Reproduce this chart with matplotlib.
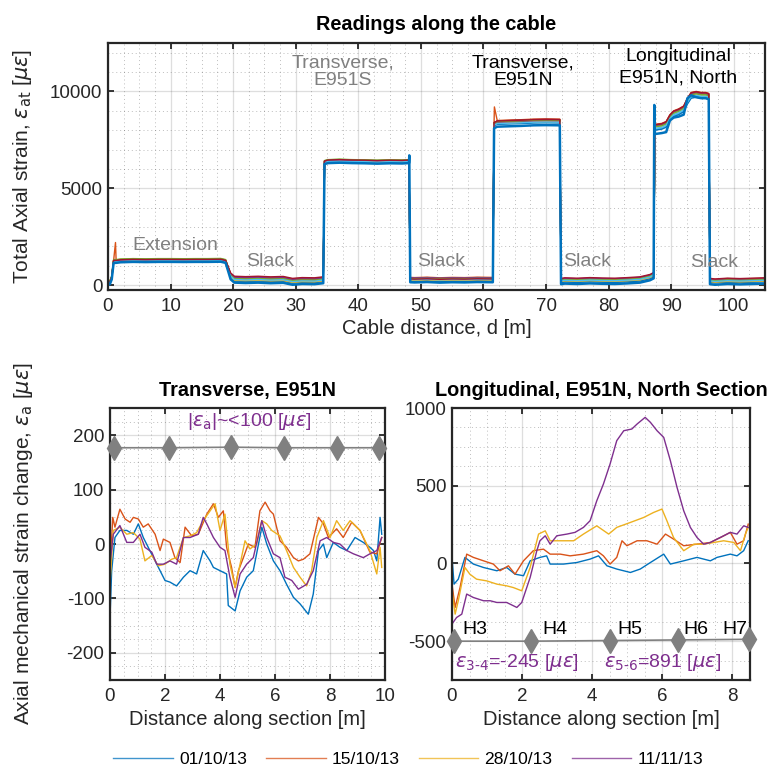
import numpy as np
import matplotlib
matplotlib.use('Agg')
import matplotlib.pyplot as plt
from matplotlib.ticker import MultipleLocator

plt.rcParams['font.family'] = ['Liberation Sans', 'DejaVu Sans']
plt.rcParams['mathtext.fontset'] = 'dejavusans'
plt.rcParams['font.size'] = 14
plt.rcParams['axes.unicode_minus'] = False

# ---------------- data: top panel (reference/blue profile per segment) ----------------
top_seg_d = [
    [0, 0.3, 0.6, 0.9, 1.3, 2, 4, 6, 8, 10, 12, 14, 16, 18, 18.8],
    [19.6, 20.2, 22, 24, 26, 28, 29.5, 31, 33, 34.4],
    [34.6, 35.2, 37, 39, 41, 43, 45, 47, 48.1],
    [48.3, 49, 51, 53, 55, 57, 59, 61.5],
    [61.7, 62.2, 64, 66, 68, 70, 72.2],
    [72.4, 73, 75, 77, 79, 81, 83, 85, 86.6, 87.2],
    [87.4, 88.5, 89.2, 89.8, 90.4, 91.2, 92, 92.6, 93.2, 94, 94.8, 95.5, 96.0],
    [96.2, 97, 99, 101, 103, 105],
]
top_seg_e = [
    [0, 50, 300, 1150, 1150, 1180, 1200, 1190, 1200, 1200, 1195, 1200, 1200, 1210, 1150],
    [300, 130, 110, 130, 100, 120, 20, 60, 50, 100],
    [6250, 6300, 6320, 6300, 6290, 6270, 6290, 6280, 6300],
    [150, 140, 160, 130, 150, 140, 160, 150],
    [8100, 8180, 8200, 8220, 8250, 8260, 8250],
    [50, 80, 60, 90, 70, 60, 90, 130, 250, 350],
    [7800, 7850, 7900, 8500, 8650, 8700, 8800, 9650, 9800, 9700, 9650, 9650, 9600],
    [50, 20, 60, 40, 60, 80],
]
# the other readings follow a slightly different path in the longitudinal section
top_long_e_others = [8050, 8100, 8200, 8550, 8750, 8850, 9000, 9400, 9700, 9750, 9700, 9700, 9650]
# offsets of the other readings above the reference, per segment
top_offsets = [
    [120, 300, 150, 250, 320, 260, 250, 280],
    [60, 150, 100, 120, 200, 150, 120, 150],
    [90, 220, 130, 180, 250, 200, 150, 200],
    [150, 250, 170, 220, 280, 230, 200, 250],
    [40, 100, 60, 90, 150, 120, 0, 120],
    [100, 200, 120, 160, 300, 180, 220, 220],
    [30, 80, 50, 60, 120, 80, -50, 90],
    [140, 180, 110, 200, 270, 240, 180, 260],
    [80, 120, 90, 110, 180, 140, 100, 130],
    [110, 270, 140, 230, 230, 270, 160, 240],
    [170, 210, 180, 190, 260, 210, 130, 210],
    [50, 160, 80, 140, 160, 170, 50, 170],
    [130, 330, 160, 170, 290, 300, 230, 300],
]
ref_spikes_d = [48.15, 87.3]
ref_spikes_e = [6700, 9300]
red_spikes_d = [1.2, 61.75]
red_spikes_e = [2200, 9200]

top_labels = ["Extension", "Slack", "Slack", "Slack", "Slack"]
top_labels_x = [10.8, 25.9, 53.3, 76.6, 96.8]
top_labels_y = [2060, 1240, 1200, 1240, 1150]

# ---------------- data: bottom-left (Transverse, E951N) ----------------
dates = ["01/10/13", "15/10/13", "28/10/13", "11/11/13"]
bl_blue_x = [0, 0.06, 0.18, 0.36, 0.61, 0.85, 1.03, 1.21, 1.45, 1.70, 2.0, 2.18, 2.42, 2.67, 2.91, 3.15, 3.39, 3.64, 3.76, 4.0,
             4.24, 4.30, 4.55, 4.73, 4.97, 5.21, 5.52, 5.70, 5.94, 6.18, 6.42, 6.67, 6.91, 7.21, 7.39, 7.58, 7.76, 7.88, 8.12, 8.36,
             8.61, 8.91, 9.21, 9.45, 9.58, 9.70, 9.82, 9.88]
bl_blue_y = [-135, -50, 12, 25, 25, 18, 37, 12, -12, -37, -67, -70, -77, -61, -49, -55, -12, -31, -43, -49,
             -55, -113, -123, -86, -61, -49, 31, 0, -31, -49, -74, -98, -110, -129, -92, -12, 0, -25, 3, -6,
             -12, 12, 3, -6, -12, -31, 49, 18]
bl_orange_x = [0, 0.1, 0.18, 0.36, 0.55, 0.73, 0.85, 1.03, 1.21, 1.39, 1.64, 1.82, 1.94, 2.18, 2.36, 2.55, 2.73, 2.97, 3.21, 3.52,
               3.76, 3.94, 4.12, 4.24, 4.42, 4.55, 4.67, 4.85, 5.03, 5.27, 5.45, 5.64, 5.82, 5.94, 6.18, 6.42, 6.67, 6.85, 7.03, 7.27,
               7.58, 7.76, 7.94, 8.24, 8.48, 8.79, 9.09, 9.45, 9.70, 9.88]
bl_orange_y = [-49, 49, 31, 64, 46, 40, 49, 46, 31, 37, 18, -12, 9, 3, -25, -34, 31, 15, 18, 55,
               74, 49, 61, -6, -43, -80, -49, -25, 0, -6, 61, 77, 61, 55, 6, -6, -25, -31, -28, -18,
               49, 37, 12, 28, 12, 40, 25, -15, -18, 12]
bl_yellow_x = [0, 0.12, 0.36, 0.61, 0.85, 1.09, 1.27, 1.52, 1.76, 2.0, 2.24, 2.42, 2.67, 2.91, 3.15, 3.39, 3.64, 3.82, 4.0, 4.18,
               4.36, 4.55, 4.73, 4.91, 5.09, 5.33, 5.52, 5.70, 5.88, 6.18, 6.42, 6.67, 6.91, 7.15, 7.33, 7.52, 7.76, 8.0, 8.24, 8.48,
               8.73, 9.09, 9.45, 9.70, 9.82, 9.88]
bl_yellow_y = [-74, 25, 31, 18, 21, 9, -31, -21, -40, -37, -28, -25, 12, 15, 21, 43, 61, 74, 25, 55,
               -37, -80, -37, 6, -9, 0, 43, 37, 25, 15, -12, -43, -61, -77, -49, 12, 43, 12, 43, 25,
               43, 25, -12, -55, -6, -43]
bl_purple_x = [0, 0.12, 0.36, 0.61, 0.85, 1.09, 1.27, 1.52, 1.70, 1.94, 2.18, 2.42, 2.67, 2.91, 3.21, 3.39, 3.52, 3.76, 4.0, 4.18,
               4.36, 4.55, 4.73, 4.97, 5.21, 5.52, 5.70, 5.94, 6.18, 6.36, 6.61, 6.85, 7.15, 7.39, 7.64, 7.88, 8.12, 8.36, 8.61, 8.85,
               9.21, 9.45, 9.70, 9.88]
bl_purple_y = [-37, 18, 34, 3, 3, 18, -6, -15, -37, -37, -31, -37, 12, 12, 18, 49, 37, 12, -6, -12,
               -61, -98, -55, -37, -25, 43, 12, -18, -25, -61, -67, -83, -74, -49, 6, 12, 3, 0, -12, -18,
               -25, -18, -12, 12]
bl_diam_x = [0.15, 2.14, 4.41, 6.34, 8.27, 9.78]
bl_diam_y = [177, 177, 178, 177, 177, 177]

# ---------------- data: bottom-right (Longitudinal, E951N, North Section) ----------------
br_blue_x = [0, 0.06, 0.18, 0.37, 0.61, 0.90, 1.28, 1.56, 1.80, 2.04, 2.23, 2.51, 2.70, 2.80, 3.18, 3.56, 3.94, 4.18, 4.42, 4.70,
             5.09, 5.37, 5.66, 6.04, 6.23, 6.61, 6.99, 7.37, 7.56, 7.94, 8.13, 8.32, 8.45]
br_blue_y = [39, -133, -101, 39, -4, -26, -47, -26, -69, -79, 17, 39, 49, -4, -4, 6, 28, 49, -15, -36,
             -58, -36, 6, 60, -4, 17, 39, 17, 39, 60, 49, 82, 146]
br_orange_x = [0, 0.09, 0.23, 0.42, 0.61, 0.90, 1.18, 1.37, 1.61, 1.80, 2.04, 2.32, 2.61, 2.80, 3.09, 3.37, 3.75, 4.13, 4.32, 4.51,
               4.70, 4.85, 4.99, 5.28, 5.56, 5.85, 6.09, 6.32, 6.61, 6.99, 7.37, 7.66, 7.94, 8.13, 8.32, 8.45]
br_orange_y = [-133, -283, -155, 60, 39, 17, -4, -47, -15, -69, 17, 82, 92, 60, 60, 49, 60, 82, 49, -4,
               39, 146, 114, 146, 146, 124, 189, 157, 114, 124, 135, 167, 200, 124, 146, 253]
br_yellow_x = [0, 0.09, 0.18, 0.37, 0.51, 0.70, 0.99, 1.28, 1.56, 1.75, 1.99, 2.23, 2.47, 2.66, 2.80, 3.09, 3.47, 3.75, 4.13, 4.47,
               4.70, 5.09, 5.47, 5.75, 5.99, 6.13, 6.32, 6.61, 6.90, 7.18, 7.47, 7.75, 8.04, 8.23, 8.37, 8.45]
br_yellow_y = [-176, -326, -240, -26, -69, -101, -112, -133, -144, -155, -176, -26, 189, 210, 146, 146, 146, 189, 242, 189,
               232, 264, 296, 328, 350, 275, 167, 82, 124, 124, 135, 146, 135, 82, 189, 232]
br_purple_x = [0, 0.13, 0.28, 0.42, 0.61, 0.90, 1.09, 1.28, 1.56, 1.85, 1.99, 2.23, 2.42, 2.51, 2.66, 2.80, 2.99, 3.28, 3.51, 3.75,
               3.94, 4.13, 4.32, 4.51, 4.70, 4.90, 5.13, 5.28, 5.51, 5.66, 5.85, 6.04, 6.23, 6.42, 6.61, 6.80, 6.99, 7.18, 7.37, 7.56,
               7.75, 7.94, 8.13, 8.32, 8.45]
br_purple_y = [-390, -348, -326, -197, -219, -240, -240, -251, -251, -283, -251, -90, 82, 146, 178, 124, 178, 189, 200, 232,
               275, 403, 511, 640, 790, 854, 865, 897, 940, 908, 854, 811, 661, 489, 339, 232, 167, 124, 135, 157,
               178, 200, 189, 242, 232]
br_diam_x = [0.05, 2.26, 4.50, 6.46, 8.47]
br_diam_y = [-500, -500, -496, -492, -488]
br_hlabels = ["H3", "H4", "H5", "H6", "H7"]
br_hlabels_x = [0.3, 2.57, 4.72, 6.6, 7.7]

# ---------------- styling ----------------
C = ['#0072BD', '#D95319', '#EDB120', '#7E2F8E', '#77AC30', '#4DBEEE', '#A2142F']
TXT = '#262626'
GRAY = '#808080'
PURP = '#7E2F8E'
TTL = 14.3
XLBL = 14.5
YLBL = 15
TICK = 13.5


def style(ax, xmaj, xmin, ymaj, ymin):
    ax.xaxis.set_major_locator(MultipleLocator(xmaj))
    ax.xaxis.set_minor_locator(MultipleLocator(xmin))
    ax.yaxis.set_major_locator(MultipleLocator(ymaj))
    ax.yaxis.set_minor_locator(MultipleLocator(ymin))
    ax.grid(True, which='major', color=TXT, alpha=0.15, lw=0.9, ls='-')
    ax.grid(True, which='minor', color=TXT, alpha=0.3, lw=0.7, ls=(0, (1, 3)))
    ax.tick_params(which='both', direction='in', top=True, right=True, colors=TXT, labelsize=TICK)
    ax.tick_params(axis='x', pad=6)
    ax.tick_params(axis='y', pad=4)
    ax.tick_params(which='major', length=4, width=1.3)
    ax.tick_params(which='minor', length=0)
    for s in ax.spines.values():
        s.set_linewidth(1.6)
        s.set_color(TXT)
    ax.set_axisbelow(True)


fig = plt.figure(figsize=(7.73, 7.69), dpi=100)
ax1 = fig.add_axes([0.1397, 0.6229, 0.850, 0.3212])
ax2 = fig.add_axes([0.1423, 0.1157, 0.3558, 0.3537])
ax3 = fig.add_axes([0.5847, 0.1157, 0.3855, 0.3537])

# ---- top panel ----
ref_d = np.concatenate([np.array(s, float) for s in top_seg_d])
others_base = [np.array(s, float) for s in top_seg_e]
others_base[6] = np.array(top_long_e_others, float)
for i, offs in enumerate(top_offsets):
    e = np.concatenate([s + o for s, o in zip(others_base, offs)])
    d = ref_d.copy()
    if i == 0:
        d = np.concatenate([d, red_spikes_d])
        e = np.concatenate([e, red_spikes_e])
        k = np.argsort(d, kind='stable')
        d, e = d[k], e[k]
    ax1.plot(d, e, color=C[(i + 1) % 7], lw=1.0)
ref_e = np.concatenate([np.array(s, float) for s in top_seg_e])
d = np.concatenate([ref_d, ref_spikes_d])
e = np.concatenate([ref_e, ref_spikes_e])
k = np.argsort(d, kind='stable')
ax1.plot(d[k], e[k], color=C[0], lw=1.8)

ax1.set_xlim(0, 105)
ax1.set_ylim(-250, 12500)
style(ax1, 10, 2.5, 5000, 1000)
ax1.set_title('Readings along the cable', fontweight='bold', fontsize=TTL, pad=9)
ax1.set_xlabel('Cable distance, d [m]', color=TXT, labelpad=3, fontsize=XLBL)
ax1.set_ylabel(r'Total Axial strain, $\varepsilon_{\rm at}$ [$\mu\varepsilon$]', color=TXT, fontsize=YLBL)
ax1.yaxis.set_label_coords(-0.113, 0.5)
for t, x, y in zip(top_labels, top_labels_x, top_labels_y):
    ax1.text(x, y, t, color=GRAY, ha='center', va='center', fontsize=14)
ax1.text(37.5, 11000, 'Transverse,\nE951S', color=GRAY, ha='center', va='center', fontsize=14, linespacing=1.05)
ax1.text(66.3, 11000, 'Transverse,\nE951N', color='black', ha='center', va='center', fontsize=14, linespacing=1.05)
ax1.text(91.1, 11250, 'Longitudinal\nE951N, North', color='black', ha='center', va='center', fontsize=14, linespacing=1.3)

# ---- bottom-left ----
handles = []
for xs, ys, c, lab in zip([bl_blue_x, bl_orange_x, bl_yellow_x, bl_purple_x],
                          [bl_blue_y, bl_orange_y, bl_yellow_y, bl_purple_y], C[:4], dates):
    h, = ax2.plot(xs, ys, color=c, lw=1.0, label=lab)
    handles.append(h)
ax2.plot(bl_diam_x, bl_diam_y, color=GRAY, lw=1.2, marker='d', markersize=12,
         markerfacecolor=GRAY, markeredgecolor=GRAY, clip_on=False, zorder=5)
ax2.set_xlim(0, 10)
ax2.set_ylim(-250, 250)
style(ax2, 2, 0.5, 100, 25)
ax2.set_title('Transverse, E951N', fontweight='bold', fontsize=TTL, pad=9)
ax2.set_xlabel('Distance along section [m]', color=TXT, labelpad=3, fontsize=XLBL)
ax2.set_ylabel(r'Axial mechanical strain change, $\varepsilon_{\rm a}$ [$\mu\varepsilon$]', color=TXT, fontsize=YLBL)
ax2.yaxis.set_label_coords(-0.273, 0.5)
ax2.text(5.07, 225, r'|$\varepsilon_{\rm a}$|~<100 [$\mu\varepsilon$]', color=PURP, ha='center', va='center', fontsize=14)

# ---- bottom-right ----
for xs, ys, c in zip([br_blue_x, br_orange_x, br_yellow_x, br_purple_x],
                     [br_blue_y, br_orange_y, br_yellow_y, br_purple_y], C[:4]):
    ax3.plot(xs, ys, color=c, lw=1.0)
ax3.plot(br_diam_x, br_diam_y, color=GRAY, lw=1.2, marker='d', markersize=12,
         markerfacecolor=GRAY, markeredgecolor=GRAY, clip_on=False, zorder=5)
for t, x in zip(br_hlabels, br_hlabels_x):
    ax3.text(x, -425, t, color='black', ha='left', va='center', fontsize=14)
ax3.text(0.1, -640, r'$\varepsilon_{\rm 3\text{-}4}$=-245 [$\mu\varepsilon$]', color=PURP, ha='left', va='center', fontsize=14)
ax3.text(4.33, -640, r'$\varepsilon_{\rm 5\text{-}6}$=891 [$\mu\varepsilon$]', color=PURP, ha='left', va='center', fontsize=14)
ax3.set_xlim(0, 8.5)
ax3.set_ylim(-750, 1000)
style(ax3, 2, 0.5, 500, 125)
ax3.set_title('Longitudinal, E951N, North Section', fontweight='bold', fontsize=TTL, pad=9)
ax3.set_xlabel('Distance along section [m]', color=TXT, labelpad=3, fontsize=XLBL)

leg = fig.legend(handles=handles, labels=dates, loc='center', bbox_to_anchor=(0.528, 0.013),
                 ncol=4, frameon=False, fontsize=12.6, handlelength=3.4, handletextpad=0.35,
                 columnspacing=1.1)
for lh in leg.get_lines():
    lh.set_alpha(0.75)

fig.savefig('out.png', dpi=100)
